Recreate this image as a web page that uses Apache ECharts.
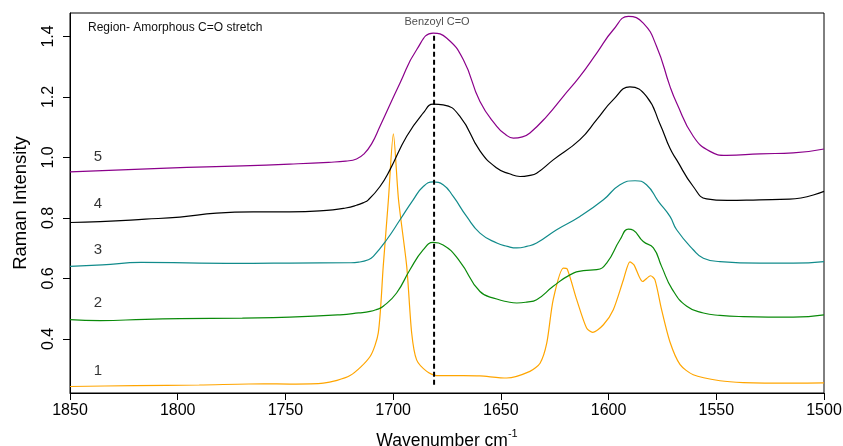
<!DOCTYPE html>
<html>
<head>
<meta charset="utf-8">
<script src="https://cdn.jsdelivr.net/npm/echarts@6/dist/echarts.min.js"></script>
<style>
  html, body { margin: 0; padding: 0; background: #fff; }
  #chart { width: 843px; height: 446px; }
</style>
</head>
<body>
<div id="chart"></div>
<script>
// Raman spectra, C=O stretch region (wavenumber in cm-1, intensity offset per sample)
const wn1 = [1850,1820,1790,1760,1748,1732.4,1720,1710.7,1706.9,1704.6,1702.2,1699.9,1697.5,1693.7,1691.4,1689.1,1684.4,1679.8,1667.4,1659.7,1647.3,1636.5,1631.8,1628.7,1625.7,1621,1619.2,1614.8,1610.2,1607.4,1602.4,1597.8,1593.1,1590.1,1588.2,1584.2,1580.5,1578.5,1575.4,1571.5,1566.8,1560.7,1548.3,1537.5,1514.3,1500];
const s1  = [0.243,0.246,0.248,0.252,0.251,0.254,0.279,0.342,0.420,0.640,0.860,1.078,0.860,0.640,0.420,0.331,0.293,0.279,0.279,0.278,0.271,0.293,0.320,0.386,0.530,0.634,0.631,0.530,0.436,0.422,0.447,0.497,0.596,0.655,0.645,0.590,0.609,0.596,0.497,0.390,0.315,0.282,0.262,0.256,0.254,0.255];

const wn2 = [1850,1836,1815,1799,1770,1748,1724.7,1716,1710.7,1707.5,1704.6,1698.4,1692.2,1686,1681.4,1676.8,1669,1659.7,1651.9,1647,1642.6,1638,1633.4,1625.7,1617.9,1611.7,1605.5,1600.9,1594.7,1590.8,1588.5,1583.9,1579.2,1575.4,1570.5,1563.7,1556,1548.3,1537.5,1514.3,1500];
const s2  = [0.464,0.461,0.465,0.467,0.469,0.472,0.480,0.486,0.491,0.498,0.508,0.552,0.629,0.695,0.719,0.711,0.656,0.557,0.532,0.523,0.519,0.522,0.530,0.574,0.612,0.626,0.629,0.651,0.728,0.763,0.759,0.722,0.701,0.640,0.565,0.508,0.486,0.478,0.474,0.472,0.480];

const wn3 = [1850,1835,1817,1790,1765,1748,1720,1716,1711.5,1709.2,1703,1696.8,1690.7,1686,1681.4,1676.8,1672.1,1665.9,1659.7,1651.9,1647,1642.6,1638,1633.4,1624.1,1613.3,1602.4,1594.7,1587.7,1582.4,1576.9,1571.5,1568.4,1560.7,1556,1548.3,1529.7,1514.3,1500];
const s3  = [0.640,0.645,0.653,0.651,0.650,0.651,0.652,0.654,0.662,0.673,0.728,0.794,0.860,0.904,0.919,0.910,0.871,0.805,0.750,0.717,0.706,0.701,0.706,0.717,0.761,0.805,0.860,0.910,0.923,0.910,0.855,0.805,0.761,0.695,0.667,0.656,0.651,0.651,0.656];

const wn4 = [1850,1836,1815,1799,1782,1765,1748,1728,1722,1717,1714,1711.5,1706.1,1701.5,1693.7,1686,1681.4,1676.8,1669,1659.7,1651.9,1646,1641.1,1637,1633.4,1625.7,1613.3,1605.5,1597.8,1590.1,1582.4,1576.1,1571.5,1568.4,1560.7,1554.5,1545,1530,1516,1500];
const s4  = [0.785,0.788,0.796,0.803,0.816,0.820,0.820,0.827,0.833,0.842,0.850,0.860,0.904,0.959,1.070,1.147,1.176,1.174,1.136,1.022,0.965,0.946,0.937,0.940,0.948,0.992,1.059,1.125,1.191,1.233,1.202,1.110,1.030,0.992,0.904,0.863,0.858,0.860,0.862,0.888];

const wn5 = [1850,1805,1770,1748,1730,1722,1717,1713.5,1710,1706.1,1696.8,1689.1,1681.4,1675.2,1667.4,1659.7,1651.9,1648,1644.2,1640,1636.5,1628.7,1621,1613.3,1605.5,1597.8,1590.8,1583.9,1577.7,1571.5,1568.4,1560.7,1552.9,1545.2,1529.7,1514.3,1500];
const s5  = [0.952,0.965,0.972,0.978,0.984,0.988,0.995,1.012,1.045,1.103,1.246,1.356,1.411,1.395,1.323,1.185,1.103,1.077,1.064,1.068,1.081,1.136,1.202,1.268,1.345,1.422,1.466,1.444,1.367,1.235,1.180,1.070,1.020,1.007,1.012,1.015,1.028];

const seriesNames  = ['1', '2', '3', '4', '5'];
const seriesColors = ['#FFA500', '#0A8A0A', '#118B8B', '#000000', '#8B008B'];

// curve number labels beside each trace
const curveLabelX = 1837;
const curveLabelY = [0.296, 0.521, 0.695, 0.847, 1.002];

// Benzoyl C=O marker
const benzoylWn = 1681;
const benzoylRange = [0.2486, 1.412];

const yTicks = [0.4, 0.6, 0.8, 1.0, 1.2, 1.4];
const FONT = 'Liberation Sans, Arial, Helvetica, sans-serif';

const zip = (xs, ys) => xs.map((x, i) => [x, ys[i]]);
const spectra = [zip(wn1, s1), zip(wn2, s2), zip(wn3, s3), zip(wn4, s4), zip(wn5, s5)];

const chart = echarts.init(document.getElementById('chart'), null, { renderer: 'canvas' });

const lineSeries = spectra.map((d, i) => ({
  name: seriesNames[i],
  type: 'line',
  data: d,
  showSymbol: false,
  smooth: i === 0 ? 0.25 : 0.5,
  lineStyle: { color: seriesColors[i], width: 1.2 },
  z: 2
}));

const option = {
  animation: false,
  backgroundColor: '#fff',
  grid: {
    left: 70, right: 19, top: 13, bottom: 53,
    outerBoundsMode: 'none', containLabel: false,
    show: true, borderColor: '#000', borderWidth: 1
  },
  xAxis: {
    type: 'value', min: 1500, max: 1850, interval: 50, inverse: true,
    axisLine: { show: true, onZero: false, lineStyle: { color: '#000', width: 1 } },
    axisTick: { show: true, length: 7, lineStyle: { color: '#000' } },
    axisLabel: { fontSize: 16, color: '#000', margin: 10, fontFamily: FONT, formatter: v => String(v) },
    splitLine: { show: false },
    name: '{a|Wavenumber cm}{s|-1}',
    nameLocation: 'middle', nameGap: 35,
    nameTextStyle: {
      fontFamily: FONT, color: '#000',
      rich: {
        a: { fontSize: 17.5, fontFamily: FONT, color: '#000', lineHeight: 22, verticalAlign: 'bottom' },
        s: { fontSize: 11, fontFamily: FONT, color: '#000', lineHeight: 22, verticalAlign: 'top' }
      }
    }
  },
  yAxis: {
    type: 'value', min: 0.2215, max: 1.4774,
    axisLine: { show: true, onZero: false, lineStyle: { color: '#000', width: 1 } },
    axisTick: { show: true, length: 7, customValues: yTicks, lineStyle: { color: '#000' } },
    axisLabel: {
      customValues: yTicks, rotate: 90, fontSize: 16, color: '#000', margin: 13, fontFamily: FONT,
      formatter: v => v.toFixed(1)
    },
    splitLine: { show: false },
    name: 'Raman Intensity', nameLocation: 'middle', nameGap: 40,
    nameTextStyle: { fontSize: 18.5, color: '#000', fontFamily: FONT }
  },
  graphic: [{
    type: 'text', left: 88, top: 22,
    style: { text: 'Region- Amorphous C=O stretch', font: '12px ' + FONT, fill: '#111' }
  }],
  series: [
    ...lineSeries,
    {
      name: 'Benzoyl C=O',
      type: 'line',
      data: [[benzoylWn, benzoylRange[0]], [benzoylWn, benzoylRange[1]]],
      showSymbol: false,
      lineStyle: { color: '#000', width: 2, type: [5, 3] },
      z: 3
    },
    {
      type: 'scatter',
      symbolSize: 0,
      silent: true,
      data: [
        ...curveLabelY.map((y, i) => ({ value: [curveLabelX, y], label: { formatter: seriesNames[i] } })),
        { value: [benzoylWn, benzoylRange[1]],
          label: { formatter: 'Benzoyl C=O', position: 'top', distance: 5, offset: [3, 0], fontSize: 11, color: '#222' } }
      ],
      label: { show: true, position: 'inside', fontSize: 15, color: '#000', fontFamily: FONT },
      z: 4
    }
  ]
};

chart.setOption(option);
</script>
</body>
</html>
